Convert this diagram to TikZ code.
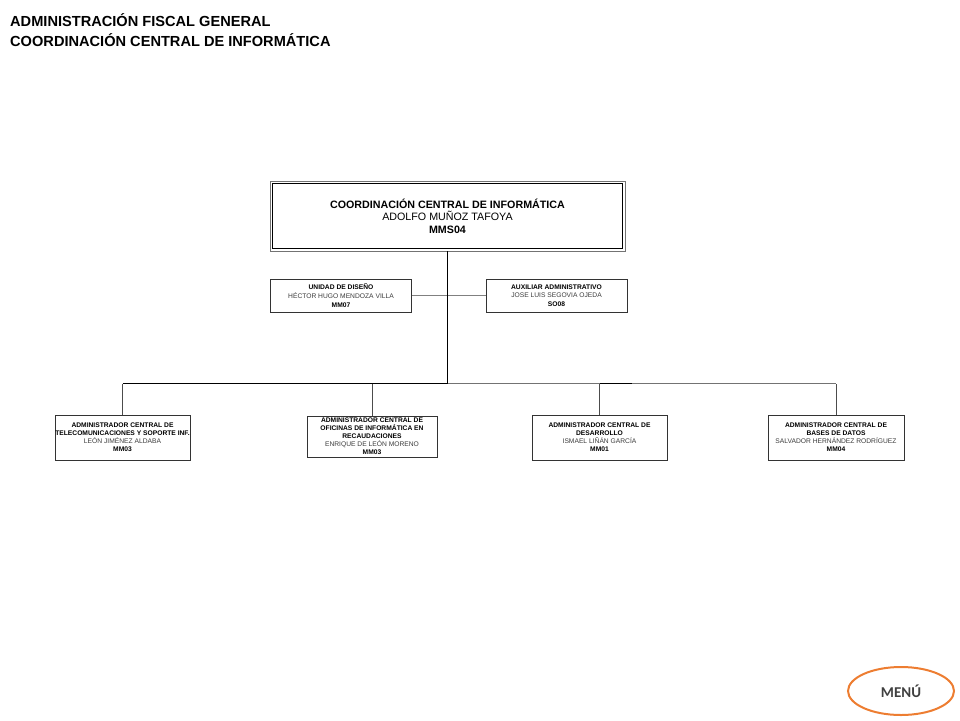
\documentclass[tikz,border=0pt]{standalone}
\usepackage{fontspec}
\usepackage{xcolor}
\setmainfont{Liberation Sans}
\newfontfamily\menufont{Carlito}
\usetikzlibrary{shapes.geometric}
\definecolor{menuorange}{RGB}{237,125,49}
\definecolor{menutext}{RGB}{64,64,64}
\definecolor{namegray}{RGB}{60,60,60}

\begin{document}
\begin{tikzpicture}[x=1pt, y={(0pt,-1pt)},
        titletext/.style={anchor=base west, inner sep=0pt, font=\fontsize{14.6}{19}\selectfont\bfseries},
        headbox/.style={draw=black!55, line width=0.6pt, minimum width=355pt, minimum height=70pt, inner sep=0pt, align=center, font=\fontsize{10.7}{12.6}\selectfont},
        staffbox/.style={draw=black!80, line width=0.7pt, minimum width=141pt, minimum height=33pt, inner sep=0pt, align=center, font=\fontsize{6.7}{8.6}\selectfont},
        unitbox/.style={draw=black!80, line width=0.7pt, minimum height=45pt, inner sep=0pt, align=center, font=\fontsize{6.7}{8}\selectfont},
        trunk/.style={black, line width=1.4pt},
        bus/.style={black!55, line width=1pt},
        drop/.style={black!70, line width=1pt},
        link/.style={black!50, line width=0.9pt},
        menu/.style={ellipse, draw=menuorange, line width=2pt, minimum width=106pt, minimum height=48pt, text=menutext, font=\menufont\fontsize{15}{18}\selectfont\bfseries}
    ]
        \useasboundingbox (0,0) rectangle (960,720);
        \node[titletext] (title1) at (10,27) {ADMINISTRACIÓN FISCAL GENERAL};
        \node[titletext] (title2) at (10,46) {COORDINACIÓN CENTRAL DE INFORMÁTICA};
        \node[headbox] (coord) at (447.5,216) {\textbf{COORDINACIÓN CENTRAL DE INFORMÁTICA}\\ ADOLFO MUÑOZ TAFOYA\\ \textbf{MMS04}};
        \draw[black, line width=1pt] ([shift={(3,3)}]coord.north west) rectangle ([shift={(-3,-3)}]coord.south east);
        \node[staffbox] (disenio) at (341,295.5) {\textbf{UNIDAD DE DISEÑO}\\ \textcolor{namegray}{HÉCTOR HUGO MENDOZA VILLA}\\ \textbf{MM07}};
        \node[staffbox] (auxiliar) at (556.5,295.5) {\textbf{AUXILIAR ADMINISTRATIVO}\\ \textcolor{namegray}{JOSE LUIS SEGOVIA OJEDA}\\ \textbf{SO08}};
        \node[unitbox, minimum width=135pt] (telecom) at (122.5,437.5) {\textbf{ADMINISTRADOR CENTRAL DE}\\ \textbf{TELECOMUNICACIONES Y SOPORTE INF.}\\ \textcolor{namegray}{LEÓN JIMÉNEZ ALDABA}\\ \textbf{MM03}};
        \node[unitbox, minimum width=130pt, minimum height=41pt] (oficinas) at (372,436.5) {\textbf{ADMINISTRADOR CENTRAL DE}\\ \textbf{OFICINAS DE INFORMÁTICA EN}\\ \textbf{RECAUDACIONES}\\ \textcolor{namegray}{ENRIQUE DE LEÓN MORENO}\\ \textbf{MM03}};
        \node[unitbox, minimum width=135pt] (desarrollo) at (599.5,437.5) {\textbf{ADMINISTRADOR CENTRAL DE}\\ \textbf{DESARROLLO}\\ \textcolor{namegray}{ISMAEL LIÑÁN GARCÍA}\\ \textbf{MM01}};
        \node[unitbox, minimum width=136pt] (datos) at (836,437.5) {\textbf{ADMINISTRADOR CENTRAL DE}\\ \textbf{BASES DE DATOS}\\ \textcolor{namegray}{SALVADOR HERNÁNDEZ RODRÍGUEZ}\\ \textbf{MM04}};
        \coordinate (busl) at (122.5,383.5);
        \coordinate (busm) at (447.5,383.5);
        \coordinate (busr) at (836,383.5);
        \coordinate (busk) at (632,383.5);
        \draw[link] (disenio.east) -- (auxiliar.west);
        \draw[bus] (busm) -- (busr);
        \draw[trunk, line width=1.1pt] (busl) -- (busm);
        \draw[trunk, line width=1.1pt] (desarrollo.north |- busm) -- (busk);
        \draw[trunk] (coord.south) -- (busm);
        \draw[drop] (telecom.north) -- (telecom.north |- busm);
        \draw[drop] (oficinas.north) -- (oficinas.north |- busm);
        \draw[drop] (desarrollo.north) -- (desarrollo.north |- busm);
        \draw[drop] (datos.north) -- (busr);
        \node[menu] (menuboton) at (901,691) {MENÚ};
\end{tikzpicture}
\end{document}
